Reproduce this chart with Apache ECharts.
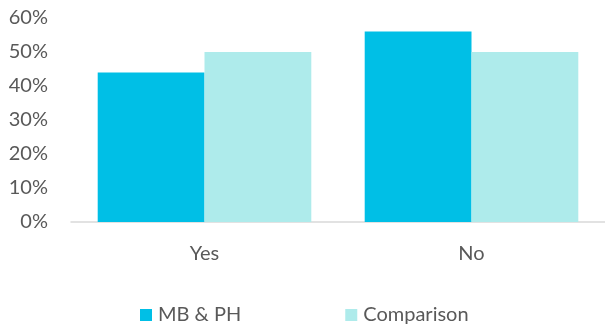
<!DOCTYPE html>
<html><head><meta charset="utf-8">
<script src="https://cdn.jsdelivr.net/npm/echarts@6/dist/echarts.min.js"></script>
<style>html,body{margin:0;padding:0;background:#fff}#c{width:605px;height:332px}</style>
</head><body><div id="c"></div>
<script>
const categories = ["Yes", "No"];
const seriesNames = ["MB & PH", "Comparison"];
const mbph = [44, 56];
const comparison = [50, 50];
const colors = ["#00BFE6", "#AEEBEB"];
const font = "Lato, 'Open Sans', sans-serif";

const chart = echarts.init(document.getElementById('c'));
chart.setOption({
  animation: false,
  color: colors,
  grid: { left: 71, right: -5, top: 18, bottom: 110, containLabel: false },
  legend: {
    bottom: 2, left: 135, itemGap: 104, itemWidth: 12, itemHeight: 12,
    icon: 'rect',
    textStyle: { color: '#595959', fontSize: 20, fontFamily: font, padding: [0, 0, 0, 1] },
    data: seriesNames
  },
  xAxis: {
    type: 'category', data: categories,
    axisLine: { lineStyle: { color: '#D9D9D9', width: 1.5 } },
    axisTick: { show: false },
    axisLabel: { color: '#595959', fontSize: 20, fontFamily: font, margin: 22 }
  },
  yAxis: {
    type: 'value', min: 0, max: 60, interval: 10,
    axisLine: { show: false }, axisTick: { show: false },
    splitLine: { show: false },
    axisLabel: { formatter: '{value}%', color: '#595959', fontSize: 20, fontFamily: font, margin: 23 }
  },
  series: [
    { name: seriesNames[0], type: 'bar', data: mbph, barGap: '0%', barCategoryGap: '20%' },
    { name: seriesNames[1], type: 'bar', data: comparison, barGap: '0%', barCategoryGap: '20%' }
  ]
});
</script></body></html>
